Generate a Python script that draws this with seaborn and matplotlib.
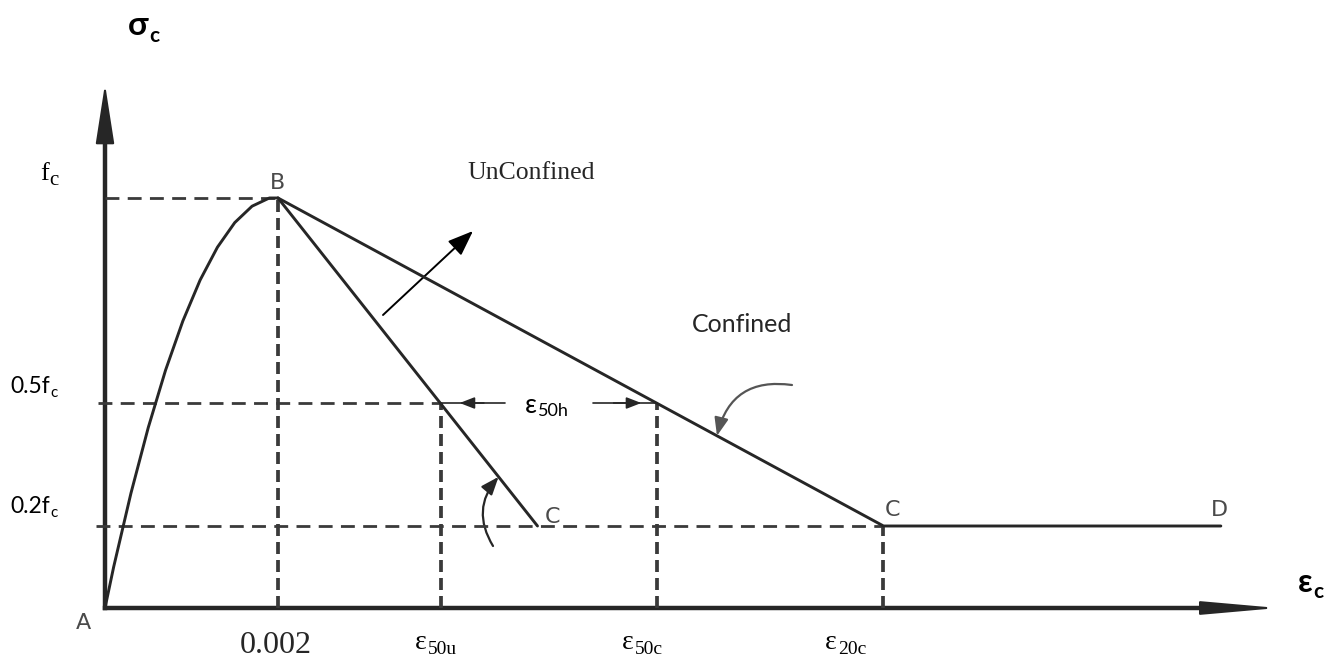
import matplotlib
matplotlib.use("Agg")
import matplotlib.pyplot as plt
import seaborn as sns
from matplotlib.patches import FancyArrowPatch

# ---- stress-strain data (strain, stress normalised by f'c) ----
# ascending branch A -> B
asc_strain = [0.0, 0.0001, 0.0002, 0.0003, 0.0004, 0.0005, 0.0006, 0.0007, 0.0008,
              0.0009, 0.0010, 0.0011, 0.0012, 0.0013, 0.0014, 0.0015, 0.0016,
              0.0017, 0.0018, 0.0019, 0.0020]
asc_stress = [0.00, 0.10, 0.19, 0.28, 0.36, 0.44, 0.51, 0.58, 0.64, 0.70, 0.75,
              0.80, 0.84, 0.88, 0.91, 0.94, 0.96, 0.98, 0.99, 1.00, 1.00]
# descending branch, unconfined concrete B -> C
unconf_strain = [0.0020, 0.0050]
unconf_stress = [1.00, 0.20]
# descending branch, confined concrete B -> C -> D
conf_strain = [0.0020, 0.0090, 0.0129]
conf_stress = [1.00, 0.20, 0.20]

# reference levels
stress_levels = [1.0, 0.5, 0.2]
stress_labels = [("f", "c"), ("0.5f", "c"), ("0.2f", "c")]
eps_peak = 0.002
eps_50u = 0.00388
eps_50c = 0.00638
eps_20c = 0.009
strain_labels = [("\u03b5", "50u"), ("\u03b5", "50c"), ("\u03b5", "20c")]

# ---- figure / coordinate frame ----
sns.set_theme(style="white")
plt.rcParams["font.family"] = ["DejaVu Sans"]

W, H = 1336, 659
X0, Y0 = 105, 608                 # origin A in pixels
PX_STRAIN = 173 / 0.002           # pixels per unit strain
PX_STRESS = 410                   # pixels per f'c

fig = plt.figure(figsize=(W / 100, H / 100), dpi=100)
ax = fig.add_axes([0, 0, 1, 1])
ax.set_xlim(-X0 / PX_STRAIN, (W - X0) / PX_STRAIN)
ax.set_ylim(-(H - Y0) / PX_STRESS, Y0 / PX_STRESS)
ax.set_axis_off()


def sx(px):
    return (px - X0) / PX_STRAIN


def sy(py):
    return (Y0 - py) / PX_STRESS


INK = "#262626"
DASH = "#3a3a3a"
SERIF = "Liberation Serif"
SANS = "Lato"

# ---- axes with arrow heads ----
ax_top = sy(84)
ax_right = sx(1278)
ax.plot([0, 0], [0, ax_top - 0.08], color=INK, lw=3.2, solid_capstyle="projecting")
ax.plot([0, ax_right - 0.0004], [0, 0], color=INK, lw=3.2, solid_capstyle="projecting")
ax.add_patch(FancyArrowPatch((0, ax_top - 0.14), (0, ax_top),
                             arrowstyle="-|>,head_length=2.7,head_width=0.42",
                             mutation_scale=14, color=INK, lw=1.5,
                             shrinkA=0, shrinkB=0))
ax.add_patch(FancyArrowPatch((ax_right - 0.0008, 0), (ax_right, 0),
                             arrowstyle="-|>,head_length=3.4,head_width=0.3",
                             mutation_scale=14, color=INK, lw=1.5,
                             shrinkA=0, shrinkB=0))

# ---- dashed construction lines ----
hd = dict(color=DASH, lw=2.0, linestyle=(0, (5, 3)))
vd = dict(color=DASH, lw=2.7, linestyle=(0, (3.2, 1.6)))
ax.plot([0, eps_peak], [stress_levels[0]] * 2, **hd)
ax.plot([-0.00008, eps_50u], [stress_levels[1]] * 2, **hd)
ax.plot([-0.0001, eps_20c], [stress_levels[2]] * 2, **hd)
ax.plot([eps_peak] * 2, [0, stress_levels[0]], **vd)
ax.plot([eps_50u] * 2, [0, stress_levels[1]], **vd)
ax.plot([eps_50c] * 2, [0, stress_levels[1]], **vd)
ax.plot([eps_20c] * 2, [0, stress_levels[2]], **vd)

# ---- stress-strain curves ----
line_kw = dict(ax=ax, color=INK, lw=2.1, sort=False, estimator=None, legend=False)
sns.lineplot(x=asc_strain, y=asc_stress, **line_kw)
sns.lineplot(x=unconf_strain, y=unconf_stress, **line_kw)
sns.lineplot(x=conf_strain, y=conf_stress, **line_kw)

# ---- epsilon_50h dimension line ----
gap_l, gap_r = sx(505), sx(593)
ax.plot([eps_50u, gap_l], [0.5, 0.5], color=INK, lw=1.2)
ax.plot([gap_r, eps_50c], [0.5, 0.5], color=INK, lw=1.2)
head_kw = dict(arrowstyle="-|>,head_length=0.9,head_width=0.35", mutation_scale=10,
               color=INK, lw=1.2, shrinkA=0, shrinkB=0)
ax.add_patch(FancyArrowPatch((eps_50u + 0.00050, 0.5), (eps_50u + 0.00022, 0.5), **head_kw))
ax.add_patch(FancyArrowPatch((eps_50c - 0.00050, 0.5), (eps_50c - 0.00018, 0.5), **head_kw))


# ---- curved pointers onto the descending branches ----
def on_line(xs, ys, s):
    return xs[0] + (ys[0] - s) / (ys[0] - ys[1]) * (xs[1] - xs[0])


tip_u = (on_line(unconf_strain, unconf_stress, 0.32), 0.32)
tip_c = (on_line(conf_strain, conf_stress, 0.42), 0.42)
ax.add_patch(FancyArrowPatch((sx(493), sy(546)), tip_u,
                             connectionstyle="arc3,rad=-0.36",
                             arrowstyle="-|>,head_length=0.9,head_width=0.35",
                             mutation_scale=12, color=INK, lw=1.6,
                             shrinkA=0, shrinkB=0))
ax.add_patch(FancyArrowPatch((sx(792), sy(385)), tip_c,
                             connectionstyle="arc3,rad=0.45",
                             arrowstyle="-|>,head_length=0.9,head_width=0.35",
                             mutation_scale=12, color="#555555", lw=1.6,
                             shrinkA=0, shrinkB=0))

# ---- straight pointer for the UnConfined label ----
ax.add_patch(FancyArrowPatch((sx(383), sy(315)), (sx(473), sy(231)),
                             arrowstyle="-|>,head_length=1.3,head_width=0.5",
                             mutation_scale=12, color="black", lw=1.4,
                             shrinkA=0, shrinkB=0))

# ---- text ----
renderer = fig.canvas.get_renderer()


def label(px, py, base, sub, family, size, sub_size, weight="normal",
          drop=0.25, color="black", bg=None):
    kw = dict(family=family, weight=weight, color=color, va="baseline", ha="left")
    t = fig.text(px / W, 1 - py / H, base, size=size, **kw)
    if bg:
        t.set_bbox(dict(facecolor=bg, edgecolor="none", pad=1))
    if sub:
        bb = t.get_window_extent(renderer)
        s = fig.text((bb.x1 + 1) / W, 1 - (py + drop * size * 100 / 72) / H, sub,
                     size=sub_size, **kw)
        if bg:
            s.set_bbox(dict(facecolor=bg, edgecolor="none", pad=1))


# axis titles
label(128, 35, "\u03c3", "c", SANS, 24, 15, weight="bold", drop=0.2)
label(1298, 592, "\u03b5", "c", SANS, 23, 15, weight="bold", drop=0.2)

# stress level labels
label(40, 180, *stress_labels[0], SERIF, 19, 15, drop=0.18)
label(10, 393, *stress_labels[1], SANS, 16.5, 11, drop=0.18)
label(10, 513, *stress_labels[2], SANS, 16.5, 11, drop=0.18)

# strain labels
fig.text(240 / W, 1 - 653 / H, "0.002", family=SERIF, size=23, va="baseline", ha="left")
for px, (b, s) in zip([415, 622, 825], strain_labels):
    label(px, 649, b, s, SERIF, 20, 14, drop=0.18)

# curve annotations
fig.text(467 / W, 1 - 179 / H, "UnConfined", family=SERIF, size=18.5, va="baseline", ha="left")
fig.text(692 / W, 1 - 332 / H, "Confined", family=SANS, size=18, va="baseline", ha="left")
label(525, 413, "\u03b5", "50h", SANS, 19, 13, drop=0.12, bg="white")

# point letters
pt_kw = dict(family="DejaVu Sans", size=16, color="#4a4a4a", va="baseline", ha="left")
fig.text(76 / W, 1 - 629 / H, "A", **pt_kw)
fig.text(270 / W, 1 - 189 / H, "B", **pt_kw)
fig.text(545 / W, 1 - 523 / H, "C", **pt_kw)
fig.text(885 / W, 1 - 516 / H, "C", **pt_kw)
fig.text(1211 / W, 1 - 516 / H, "D", **pt_kw)

fig.savefig("out.png", dpi=100, facecolor="white")
